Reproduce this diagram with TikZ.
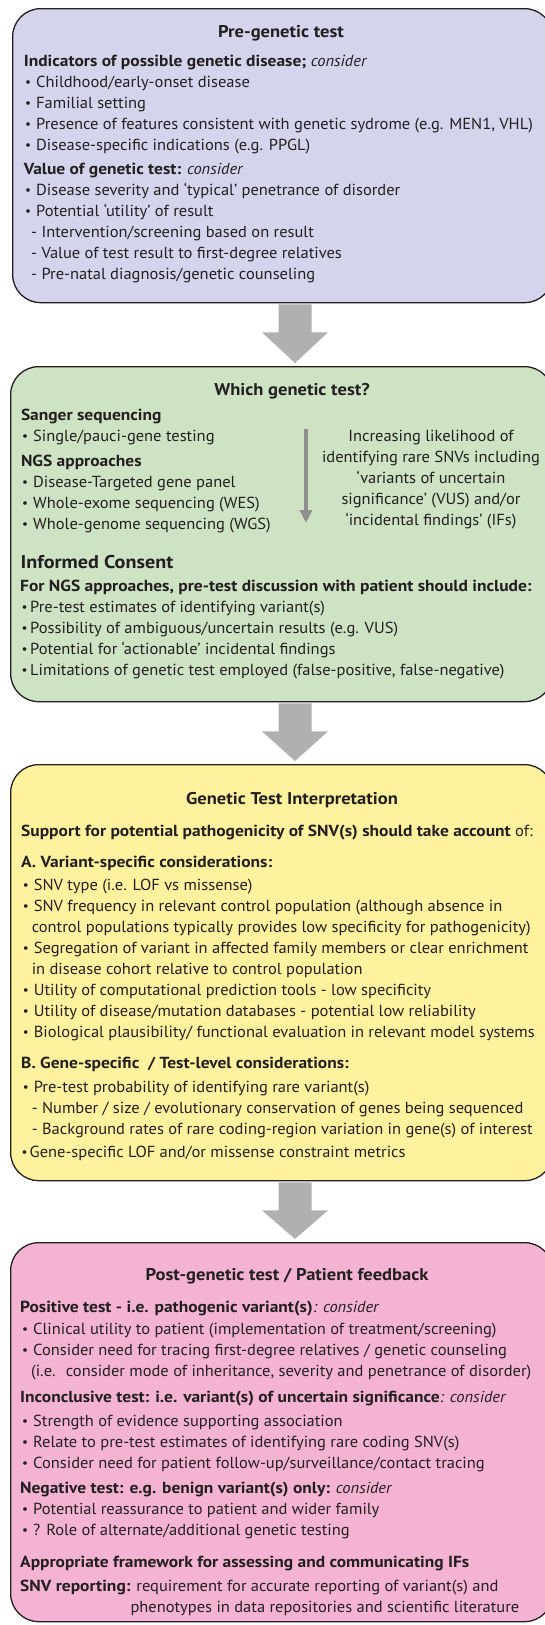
\documentclass[tikz,border=0pt]{standalone}
\usepackage{fontspec}
\setmainfont{PT Sans}[FakeStretch=1.03, BoldFeatures={FakeStretch=1.09}]
\usetikzlibrary{calc,arrows.meta}
\definecolor{purp}{HTML}{D4D4EC}
\definecolor{grn}{HTML}{CDE3C4}
\definecolor{yel}{HTML}{FEF29F}
\definecolor{pnk}{HTML}{F4B3D3}
\definecolor{agray}{HTML}{B0B0B0}
\definecolor{sgray}{HTML}{8F8F8F}
\definecolor{ink}{HTML}{231F20}
\newcommand\bl{\makebox[11pt][l]{\raisebox{0.6pt}{\scalebox{0.8}{•}}}}
\newcommand\bls{\makebox[8.5pt][l]{\raisebox{0.6pt}{\scalebox{0.8}{•}}}}
\newcommand\bodyf{\fontsize{16}{21}\selectfont}
\newcommand\titlef{\fontsize{17}{21}\selectfont\bfseries}
\newcommand\bigf{\fontsize{18.5}{21}\selectfont\bfseries}
\tikzset{
  box/.style={draw=ink, line width=1.3pt, rounded corners=28pt, anchor=north west, inner sep=0pt},
  ttl/.style={font=\titlef, text=ink, anchor=base, inner sep=0pt},
  txt/.style={font=\bodyf, text=ink, anchor=base west, inner sep=0pt},
  ctxt/.style={font=\bodyf, text=ink, anchor=base, inner sep=0pt},
  blockarrow/.style={fill=agray},
  thinarrow/.style={draw=sgray, line width=3.6pt, -{Triangle[length=13pt,width=12pt]}}
}
\newcommand\barrow[2]{%
  \fill[blockarrow] ($(#1.south -| ax)+(-16.5,1)$) -- ($(#1.south -| ax)+(16.5,1)$)
    -- ($(#1.south -| ax)+(16.5,29)$) -- ($(#1.south -| ax)+(33,29)$)
    -- ($(#2.north -| ax)+(0,-3)$) -- ($(#1.south -| ax)+(-33,29)$)
    -- ($(#1.south -| ax)+(-16.5,29)$) -- cycle;}
\begin{document}
\begin{tikzpicture}[x=1pt,y=-1pt]
\useasboundingbox (0,0) rectangle (545,1625);
\clip (0,0) rectangle (545,1625);
\coordinate (ax) at (295,0);
% boxes
\node[box, fill=purp, minimum width=540pt, minimum height=294pt] (b1) at (12,8) {};
\node[box, fill=grn, minimum width=542pt, minimum height=335pt] (b2) at (10,366) {};
\node[box, fill=yel, minimum width=542pt, minimum height=416pt] (b3) at (10,764) {};
\node[box, fill=pnk, minimum width=542pt, minimum height=379pt] (b4) at (10,1242) {};
\barrow{b1}{b2}
\barrow{b2}{b3}
\barrow{b3}{b4}
% box 1
\node[ttl] (t1) at (281,37) {Pre-genetic test};
\node[txt] (h1a) at (23.6,66) {\textbf{Indicators of possible genetic disease;} \textit{consider}};
\node[txt] (l1a) at (25,87) {\begin{tabular}[t]{@{}l@{}}
\bl Childhood/early-onset disease\\
\bl Familial setting\\
\bl Presence of features consistent with genetic sydrome (e.g. MEN1, VHL)\\
\bl Disease-specific indications (e.g. PPGL)\end{tabular}};
\node[txt] (h1b) at (23.6,174) {\textbf{Value of genetic test:} \textit{consider}};
\node[txt] (l1b) at (25,195) {\begin{tabular}[t]{@{}l@{}}
\bl Disease severity and ‘typical’ penetrance of disorder\\
\bl Potential ‘utility’ of result\\
\hspace{6pt}- Intervention/screening based on result\\
\hspace{6pt}- Value of test result to first-degree relatives\\
\hspace{6pt}- Pre-natal diagnosis/genetic counseling\end{tabular}};
% box 2
\node[ttl] (t2) at (292,395) {Which genetic test?};
\node[txt] (h2a) at (20.8,420) {\textbf{Sanger sequencing}};
\node[txt] (l2a) at (22,441) {\bl Single/pauci-gene testing};
\node[txt] (h2b) at (20.8,466) {\textbf{NGS approaches}};
\node[txt] (l2b) at (22,487) {\begin{tabular}[t]{@{}l@{}}
\bl Disease-Targeted gene panel\\
\bl Whole-exome sequencing (WES)\\
\bl Whole-genome sequencing (WGS)\end{tabular}};
\coordinate (sa1) at (306,429);
\coordinate (sa2) at (306,523);
\draw[thinarrow] (sa1) -- (sa2);
\node[ctxt] (r2) at (431,441) {\begin{tabular}[t]{@{}c@{}}
Increasing likelihood of\\
identifying rare SNVs including\\
‘variants of uncertain\\
significance’ (VUS) and/or\\
‘incidental findings’ (IFs)\end{tabular}};
\node[txt, font=\bigf] (h2c) at (20.5,568) {Informed Consent};
\node[txt] (h2d) at (20,591) {\textbf{For NGS approaches, pre-test discussion with patient should include:}};
\node[txt] (l2d) at (21.5,612) {\begin{tabular}[t]{@{}l@{}}
\bls Pre-test estimates of identifying variant(s)\\
\bls Possibility of ambiguous/uncertain results (e.g. VUS)\\
\bls Potential for ‘actionable’ incidental findings\\
\bls Limitations of genetic test employed (false-positive, false-negative)\end{tabular}};
% box 3
\node[ttl] (t3) at (292,804) {Genetic Test Interpretation};
\node[txt] (h3) at (21,836) {\textbf{Support for potential pathogenicity of SNV(s) should take account} of:};
\node[txt] (h3a) at (21,867) {\textbf{A. Variant-specific considerations:}};
\node[txt] (l3a) at (22.6,890) {\begin{tabular}[t]{@{}l@{}}
\bl SNV type (i.e. LOF vs missense)\\
\bl SNV frequency in relevant control population (although absence in\\
\hspace{9pt}control populations typically provides low specificity for pathogenicity)\\
\bl Segregation of variant in affected family members or clear enrichment\\
\hspace{9pt}in disease cohort relative to control population\\
\bl Utility of computational prediction tools - low specificity\\
\bl Utility of disease/mutation databases - potential low reliability\\
\bl Biological plausibility/ functional evaluation in relevant model systems\end{tabular}};
\node[txt] (h3b) at (21,1068) {\textbf{B. Gene-specific~ / Test-level considerations:}};
\node[txt] (l3b) at (22.6,1092) {\begin{tabular}[t]{@{}l@{}}
\bl Pre-test probability of identifying rare variant(s)\\
\hspace{9pt}- Number / size / evolutionary conservation of genes being sequenced\\
\hspace{9pt}- Background rates of rare coding-region variation in gene(s) of interest\end{tabular}};
\node[txt] (l3c) at (21.5,1157.5) {\makebox[8pt][l]{\raisebox{0.6pt}{\scalebox{0.8}{•}}}Gene-specific LOF and/or missense constraint metrics};
% box 4
\node[ttl] (t4) at (287,1280) {Post-genetic test / Patient feedback};
\node[txt] (h4a) at (20,1312) {\textbf{Positive test - i.e. pathogenic variant(s)}\textit{: consider}};
\node[txt] (l4a) at (22,1334) {\begin{tabular}[t]{@{}l@{}}
\bl Clinical utility to patient (implementation of treatment/screening)\\
\bl Consider need for tracing first-degree relatives / genetic counseling\\
\hspace{9pt}(i.e.~ consider mode of inheritance, severity and penetrance of disorder)\end{tabular}};
\node[txt] (h4b) at (20,1402) {\textbf{Inconclusive test: i.e. variant(s) of uncertain significance}\textit{: consider}};
\node[txt] (l4b) at (22,1426) {\begin{tabular}[t]{@{}l@{}}
\bl Strength of evidence supporting association\\
\bl Relate to pre-test estimates of identifying rare coding SNV(s)\\
\bl Consider need for patient follow-up/surveillance/contact tracing\end{tabular}};
\node[txt] (h4c) at (20,1493) {\textbf{Negative test: e.g. benign variant(s) only:} \textit{consider}};
\node[txt] (l4c) at (22,1514) {\begin{tabular}[t]{@{}l@{}}
\bl Potential reassurance to patient and wider family\\
\bl ? Role of alternate/additional genetic testing\end{tabular}};
\node[txt] (h4d) at (20,1567) {\textbf{Appropriate framework for assessing and communicating IFs}};
\node[txt] (h4e) at (20,1591) {\textbf{SNV reporting:} requirement for accurate reporting of variant(s) and};
\node[txt] (l4e) at (130.3,1612) {phenotypes in data repositories and scientific literature};
\end{tikzpicture}
\end{document}
